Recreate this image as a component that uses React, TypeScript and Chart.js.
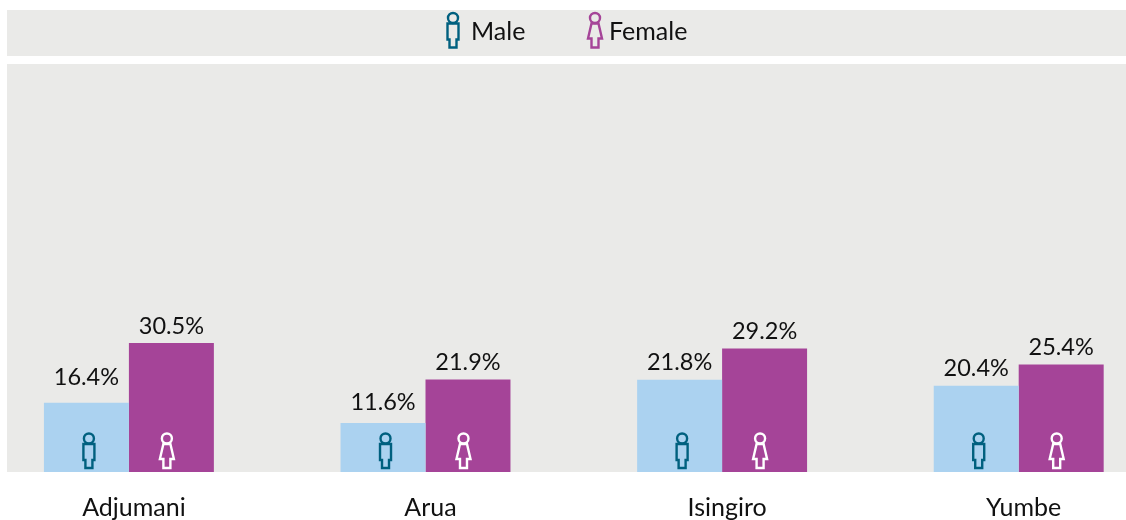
import React, { useEffect, useRef } from "react";
import { Chart, registerables } from "chart.js";

Chart.register(...registerables);

const districts = ["Adjumani", "Arua", "Isingiro", "Yumbe"];
const maleValues = [16.4, 11.6, 21.8, 20.4];
const femaleValues = [30.5, 21.9, 29.2, 25.4];

const PANEL = "#EAEAE8";
const MALE_BAR = "#ABD2F0";
const FEMALE_BAR = "#A54498";
const MALE_ICON = "#00607F";
const FONT = "Lato, Carlito, sans-serif";

const CANVAS_LEFT = -36;
const CANVAS_W = 1203;
const CANVAS_H = 544;

function maleIcon(ctx: CanvasRenderingContext2D, cx: number, top: number, color: string) {
  ctx.save();
  ctx.strokeStyle = color;
  ctx.lineWidth = 2.4;
  ctx.lineJoin = "miter";
  ctx.beginPath();
  ctx.arc(cx, top + 5.5, 5, 0, Math.PI * 2);
  ctx.stroke();
  ctx.beginPath();
  ctx.moveTo(cx - 5.5, top + 11);
  ctx.lineTo(cx + 5.5, top + 11);
  ctx.lineTo(cx + 5.5, top + 27);
  ctx.lineTo(cx + 3.5, top + 27);
  ctx.lineTo(cx + 3.5, top + 35);
  ctx.lineTo(cx - 3.5, top + 35);
  ctx.lineTo(cx - 3.5, top + 27);
  ctx.lineTo(cx - 5.5, top + 27);
  ctx.closePath();
  ctx.stroke();
  ctx.restore();
}

function femaleIcon(ctx: CanvasRenderingContext2D, cx: number, top: number, color: string) {
  ctx.save();
  ctx.strokeStyle = color;
  ctx.lineWidth = 2.4;
  ctx.lineJoin = "miter";
  ctx.beginPath();
  ctx.arc(cx, top + 5.5, 5, 0, Math.PI * 2);
  ctx.stroke();
  ctx.beginPath();
  ctx.moveTo(cx - 3.5, top + 11);
  ctx.lineTo(cx + 3.5, top + 11);
  ctx.lineTo(cx + 7, top + 26);
  ctx.lineTo(cx + 3.5, top + 26);
  ctx.lineTo(cx + 3.5, top + 35);
  ctx.lineTo(cx - 3.5, top + 35);
  ctx.lineTo(cx - 3.5, top + 26);
  ctx.lineTo(cx - 7, top + 26);
  ctx.closePath();
  ctx.stroke();
  ctx.restore();
}

const panelPlugin = {
  id: "panels",
  beforeDraw(chart: any) {
    const { ctx, chartArea } = chart;
    ctx.save();
    ctx.fillStyle = PANEL;
    const left = 7 - CANVAS_LEFT;
    const w = 1119;
    ctx.fillRect(left, 10, w, 46);
    ctx.fillRect(left, chartArea.top, w, chartArea.bottom - chartArea.top);
    ctx.restore();
  },
};

const legendPlugin = {
  id: "iconLegend",
  afterDraw(chart: any) {
    const { ctx } = chart;
    const items = [
      { iconX: 453, textX: 471, draw: maleIcon, color: MALE_ICON },
      { iconX: 595, textX: 609, draw: femaleIcon, color: FEMALE_BAR },
    ];
    items.forEach((it, i) => {
      it.draw(ctx, it.iconX - CANVAS_LEFT, 12.5, it.color);
      ctx.save();
      ctx.fillStyle = "#111111";
      ctx.font = `25px ${FONT}`;
      ctx.textAlign = "left";
      ctx.textBaseline = "middle";
      ctx.fillText(chart.data.datasets[i].label, it.textX - CANVAS_LEFT, 31.5);
      ctx.restore();
    });
  },
};

const labelNudge = [[-8, -4, 0, 0], [0, 0, 0, 0]];

const barDecorPlugin = {
  id: "barDecor",
  afterDatasetsDraw(chart: any) {
    const { ctx, chartArea } = chart;
    chart.data.datasets.forEach((ds: any, di: number) => {
      chart.getDatasetMeta(di).data.forEach((bar: any, i: number) => {
        ctx.save();
        ctx.fillStyle = "#111111";
        ctx.font = `23.5px ${FONT}`;
        ctx.textAlign = "center";
        ctx.textBaseline = "middle";
        ctx.fillText(`${ds.data[i].toFixed(1)}%`, bar.x, bar.y - 17 + labelNudge[di][i]);
        ctx.restore();
        if (di === 0) maleIcon(ctx, bar.x + 2.5, chartArea.bottom - 39, MALE_ICON);
        else femaleIcon(ctx, bar.x - 4.5, chartArea.bottom - 39, "#FFFFFF");
      });
    });
  },
};

export default function App() {
  const ref = useRef<HTMLCanvasElement>(null);
  useEffect(() => {
    const chart = new Chart(ref.current!, {
      type: "bar",
      data: {
        labels: districts,
        datasets: [
          { label: "Male", data: maleValues, backgroundColor: MALE_BAR },
          { label: "Female", data: femaleValues, backgroundColor: FEMALE_BAR },
        ],
      },
      options: {
        responsive: false,
        animation: false,
        layout: { padding: { left: 16.6, right: 0, top: 64, bottom: 0 } },
        datasets: { bar: { categoryPercentage: 0.573, barPercentage: 1 } },
        plugins: {
          tooltip: { enabled: false },
          legend: { display: false },
        },
        scales: {
          y: { display: false, min: 0, max: 96.5 },
          x: {
            grid: { display: false, drawTicks: false },
            border: { display: false },
            ticks: {
              color: "#111111",
              font: { family: FONT, size: 25 },
              padding: 21,
              labelOffset: 5,
              maxRotation: 0,
            },
          },
        },
      } as any,
      plugins: [panelPlugin, barDecorPlugin, legendPlugin],
    });
    return () => chart.destroy();
  }, []);
  return (
    <div style={{ position: "fixed", left: 0, top: 0, width: 1126, height: 520, overflow: "hidden", background: "#fff" }}>
      <canvas ref={ref} width={CANVAS_W} height={CANVAS_H} style={{ position: "absolute", left: CANVAS_LEFT, top: 0 }} />
    </div>
  );
}
